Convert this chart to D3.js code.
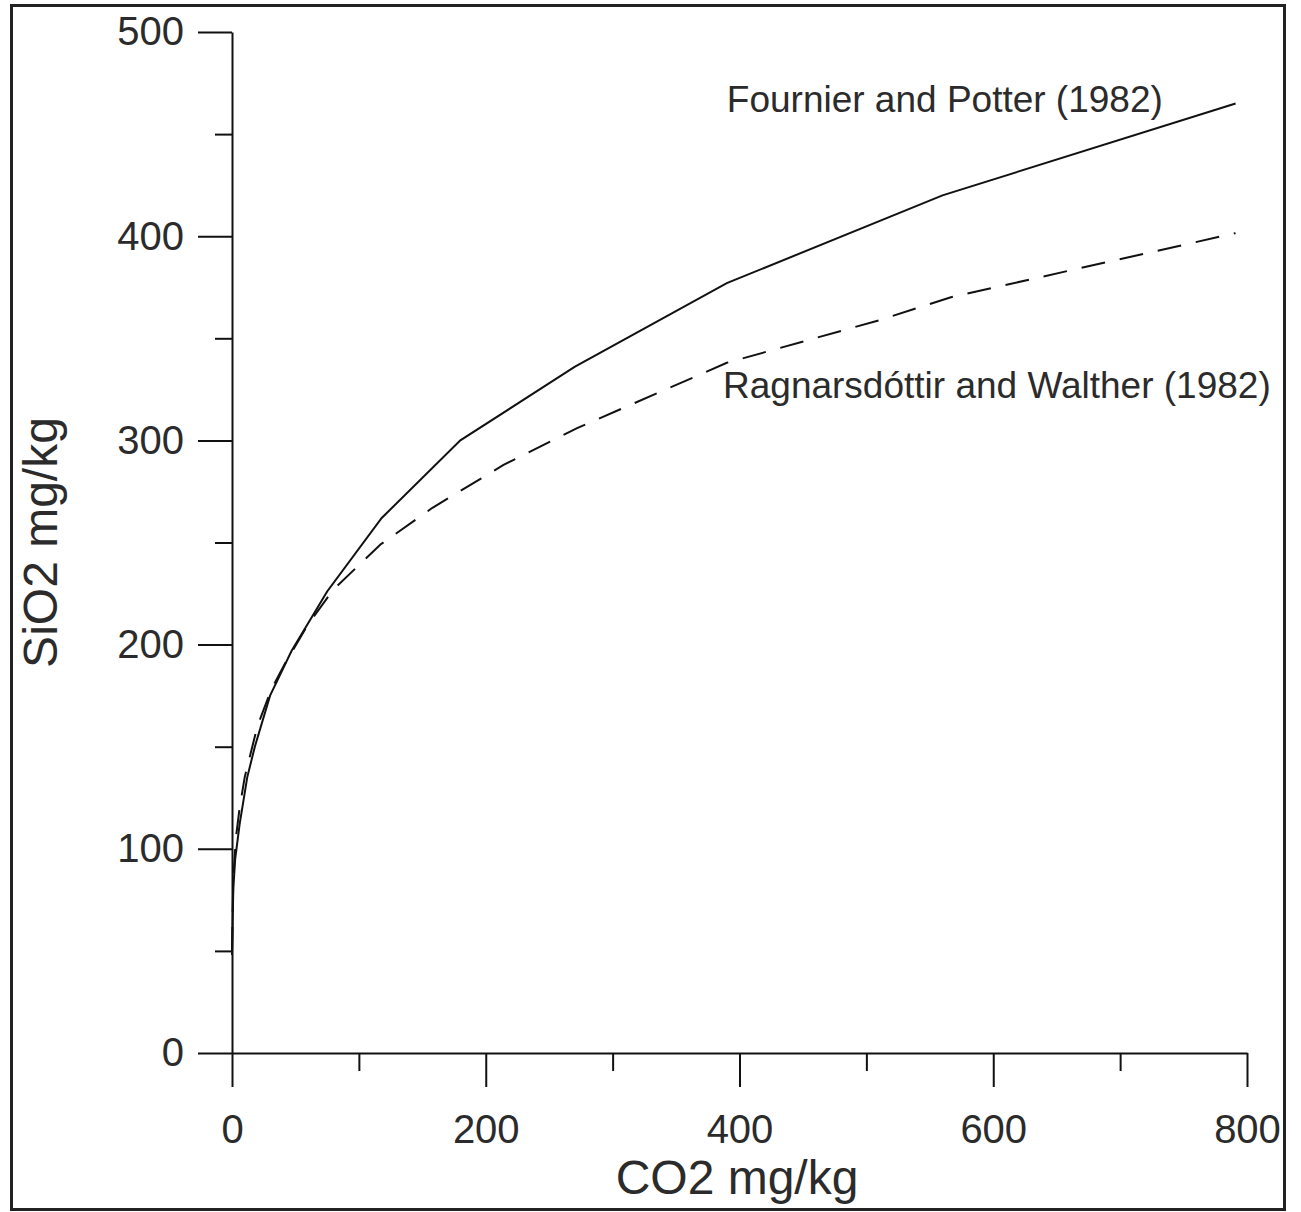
<!DOCTYPE html>
<html>
<head>
<meta charset="utf-8">
<script src="https://cdn.jsdelivr.net/npm/d3@7"></script>
<style>
  html, body { margin: 0; padding: 0; background: #fff; }
  svg { display: block; }
  text { font-family: "Liberation Sans", Arial, Helvetica, sans-serif; fill: #2b2b2b; }
</style>
</head>
<body>
<svg id="chart" width="1301" height="1212"></svg>
<script>
// ---- Data ----
const fournierCO2  = [0, 1, 2.5, 6, 12, 18, 30, 47, 75, 118, 180, 270, 390, 560, 791];
const fournierSiO2 = [48, 80, 95, 112, 135, 150, 175, 197, 226, 262, 300, 336, 377, 420, 465];

const ragnarCO2  = [0, 1, 3, 6, 10, 20, 31, 42, 60, 80, 117, 158, 214, 272, 390, 511, 566, 791];
const ragnarSiO2 = [50, 85, 105, 120, 135, 160, 178, 191, 210, 227, 249, 267, 288, 306, 338, 359, 370, 401.5];

const xMajorTicks = [0, 200, 400, 600, 800];
const xMinorTicks = [100, 300, 500, 700];
const yMajorTicks = [0, 100, 200, 300, 400, 500];
const yMinorTicks = [50, 150, 250, 350, 450];

const xTitle = "CO2 mg/kg";
const yTitle = "SiO2 mg/kg";
const labelFournier = "Fournier and Potter (1982)";
const labelRagnar = "Ragnarsdóttir and Walther (1982)";

// ---- Layout ----
const svg = d3.select("#chart");
const x = d3.scaleLinear().domain([0, 800]).range([232, 1247]);
const y = d3.scaleLinear().domain([0, 500]).range([1053, 32]);

// frame
svg.append("rect")
  .attr("x", 11.5).attr("y", 5.5).attr("width", 1273).attr("height", 1204)
  .attr("fill", "none").attr("stroke", "#222").attr("stroke-width", 3);

// X axis
const gx = svg.append("g").attr("transform", `translate(0,${y(0)})`);
gx.call(d3.axisBottom(x).tickValues(xMajorTicks).tickSize(34).tickSizeOuter(0).tickPadding(28).tickFormat(d3.format("d")));
gx.append("g").call(d3.axisBottom(x).tickValues(xMinorTicks).tickSize(18).tickFormat(""))
  .select(".domain").remove();

// Y axis
const gy = svg.append("g").attr("transform", `translate(${x(0)},0)`);
gy.call(d3.axisLeft(y).tickValues(yMajorTicks).tickSize(34).tickSizeOuter(0).tickPadding(14).tickFormat(d3.format("d")));
gy.append("g").call(d3.axisLeft(y).tickValues(yMinorTicks).tickSize(17).tickFormat(""))
  .select(".domain").remove();

svg.selectAll(".domain, .tick line").attr("stroke", "#111").attr("stroke-width", 2);
svg.selectAll(".tick text").style("font-size", "40px").attr("fill", "#2b2b2b")
  .style("font-family", '"Liberation Sans", Arial, sans-serif');

// Axis titles
svg.append("text").attr("x", 737).attr("y", 1194).attr("text-anchor", "middle")
  .style("font-size", "48px").text(xTitle);
svg.append("text").attr("transform", `translate(57,${(y(0) + y(500)) / 2}) rotate(-90)`)
  .attr("text-anchor", "middle").style("font-size", "48px").text(yTitle);

// Lines
const line = d3.line().x(d => x(d[0])).y(d => y(d[1]));
const fournier = fournierCO2.map((c, i) => [c, fournierSiO2[i]]);
const ragnar = ragnarCO2.map((c, i) => [c, ragnarSiO2[i]]);

svg.append("path").datum(ragnar).attr("d", line)
  .attr("fill", "none").attr("stroke", "#111").attr("stroke-width", 2)
  .attr("stroke-dasharray", "24,15");
svg.append("path").datum(fournier).attr("d", line)
  .attr("fill", "none").attr("stroke", "#111").attr("stroke-width", 2);

// Labels
svg.append("text").attr("x", x(390)).attr("y", y(461))
  .style("font-size", "37px").text(labelFournier);
svg.append("text").attr("x", x(387)).attr("y", y(320.7))
  .style("font-size", "37px").text(labelRagnar);
</script>
</body>
</html>
